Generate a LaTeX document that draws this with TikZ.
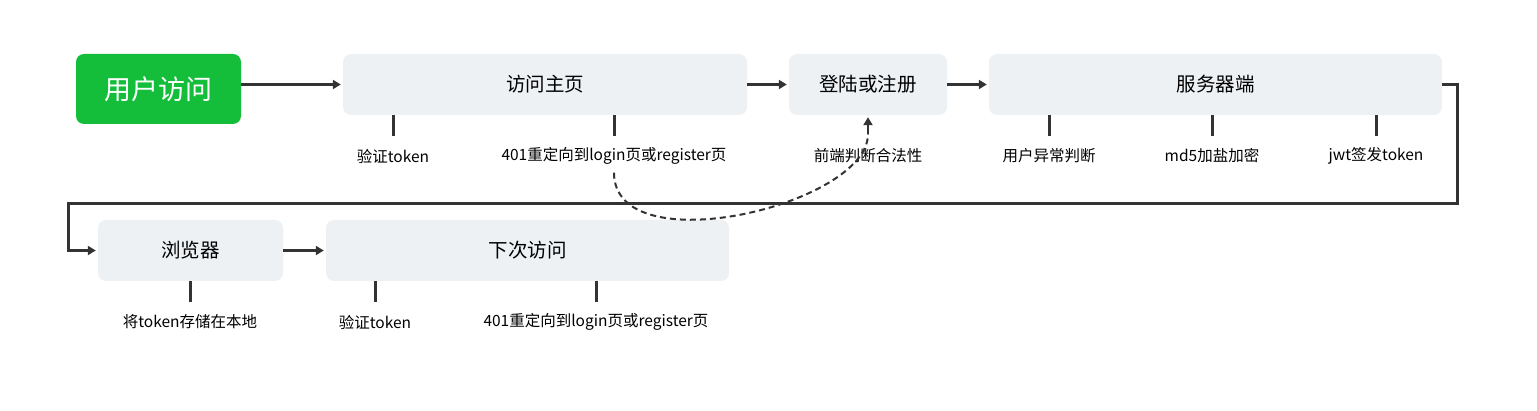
\documentclass[tikz,border=0pt]{standalone}
\usepackage{fontspec}
\setmainfont{Noto Sans CJK SC}
\usetikzlibrary{calc,arrows.meta}
\definecolor{boxgray}{RGB}{238,241,244}
\definecolor{okgreen}{RGB}{20,190,58}
\definecolor{linegray}{RGB}{51,51,51}

\begin{document}
\begin{tikzpicture}[x=1pt,y=-1pt,
    stepbox/.style={fill=boxgray,rounded corners=8pt,minimum height=61pt,inner sep=0pt,font=\fontsize{19.5}{22}\selectfont},
    note/.style={inner sep=0pt,font=\fontsize{15.5}{17}\selectfont},
    link/.style={draw=linegray,line width=3pt,shorten >=2pt,-{Triangle[length=8pt,width=9pt]}},
    tick/.style={draw=linegray,line width=3pt}]
    \useasboundingbox (0,0) rectangle (1537,411);

    \node[fill=okgreen,rounded corners=8pt,minimum width=165pt,minimum height=70pt,text=white,font=\fontsize{27}{30}\selectfont] (visit) at (158.5,89) {用户访问};
    \node[stepbox,minimum width=404pt] (home) at (545,84.5) {访问主页};
    \node[stepbox,minimum width=158pt] (login) at (868,84.5) {登陆或注册};
    \node[stepbox,minimum width=453pt] (server) at (1215.5,84.5) {服务器端};
    \node[stepbox,minimum width=185pt] (browser) at (190.5,250.5) {浏览器};
    \node[stepbox,minimum width=403pt] (next) at (527.5,250.5) {下次访问};

    \node[note] (home1) at (393,156) {验证token};
    \node[note] (home2) at (614,156) {401重定向到login页或register页};
    \node[note] (check) at (868,156) {前端判断合法性};
    \node[note] (serv1) at (1049,156) {用户异常判断};
    \node[note] (serv2) at (1212,156) {md5加盐加密};
    \node[note] (serv3) at (1376,156) {jwt签发token};
    \node[note] (store) at (190,322) {将token存储在本地};
    \node[note] (next1) at (375,322) {验证token};
    \node[note] (next2) at (596,322) {401重定向到login页或register页};

    \coordinate (hook) at (868,134);
    \coordinate (turnA) at (1457,204);
    \coordinate (turnB) at (68,204);

    \draw[link] (visit.east |- home.west) -- (home.west);
    \draw[link] (home.east) -- (login.west);
    \draw[link] (login.east) -- (server.west);
    \draw[link] (browser.east) -- (next.west);
    \draw[link] (server.east) -| (turnA) -- (turnB) |- (browser.west);

    \foreach \n/\b in {home1/home,home2/home,serv1/server,serv2/server,serv3/server,store/browser,next1/next,next2/next}
      \draw[tick] (\b.south -| \n) -- ++(0,21);

    \draw[draw=linegray,line width=2pt,dash pattern=on 6pt off 4pt] ($(home2.south)+(0,8)$) .. controls (614,265) and (868,205) .. (hook);
    \draw[link,line width=2pt] (hook) -- (login.south);
\end{tikzpicture}
\end{document}
